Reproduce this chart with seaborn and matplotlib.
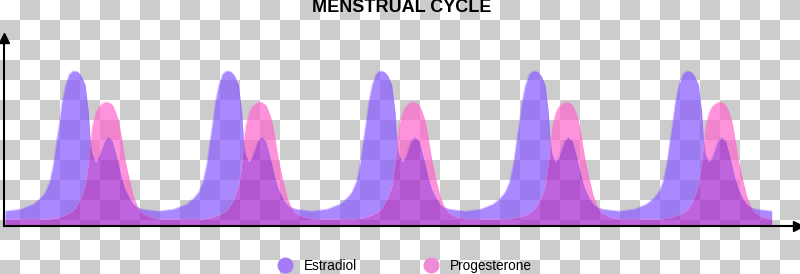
import numpy as np
import pandas as pd
import matplotlib
matplotlib.use("Agg")
import matplotlib.pyplot as plt
from matplotlib.colors import ListedColormap
from matplotlib.lines import Line2D
import seaborn as sns

sns.set_theme(style="white")
plt.rcParams['font.family'] = ['Liberation Sans', 'DejaVu Sans']

# ---------------- data ----------------
title = "MENSTRUAL CYCLE"
series_names = ["Estradiol", "Progesterone"]

days = [
    0.2, 3.0, 5.3, 6.6, 7.5, 8.3, 9.0, 9.5, 10.1, 10.6, 11.2, 11.9, 12.5, 13.0, 13.5, 14.1, 14.8, 15.4,
    15.7, 16.1, 16.7, 17.2, 17.8, 18.3, 19.0, 19.8, 20.3, 20.9, 21.4, 22.1, 22.9, 23.6, 24.3, 25.2, 26.7,
    28.2, 31.0, 33.3, 34.6, 35.5, 36.3, 37.0, 37.5, 38.1, 38.6, 39.2, 39.9, 40.5, 41.0, 41.5, 42.1, 42.8, 43.4,
    43.7, 44.1, 44.7, 45.2, 45.8, 46.3, 47.0, 47.8, 48.3, 48.9, 49.4, 50.1, 50.9, 51.6, 52.3, 53.2, 54.7,
    56.2, 59.0, 61.3, 62.6, 63.5, 64.3, 65.0, 65.5, 66.1, 66.6, 67.2, 67.9, 68.5, 69.0, 69.5, 70.1, 70.8, 71.4,
    71.7, 72.1, 72.7, 73.2, 73.8, 74.3, 75.0, 75.8, 76.3, 76.9, 77.4, 78.1, 78.9, 79.6, 80.3, 81.2, 82.7,
    84.2, 87.0, 89.3, 90.6, 91.5, 92.3, 93.0, 93.5, 94.1, 94.6, 95.2, 95.9, 96.5, 97.0, 97.5, 98.1, 98.8, 99.4,
    99.7, 100.1, 100.7, 101.2, 101.8, 102.3, 103.0, 103.8, 104.3, 104.9, 105.4, 106.1, 106.9, 107.6, 108.3, 109.2, 110.7,
    112.2, 115.0, 117.3, 118.6, 119.5, 120.3, 121.0, 121.5, 122.1, 122.6, 123.2, 123.9, 124.5, 125.0, 125.5, 126.1, 126.8, 127.4,
    127.7, 128.1, 128.7, 129.2, 129.8, 130.3, 131.0, 131.8, 132.3, 132.9, 133.4, 134.1, 134.9, 135.6, 136.3, 137.2, 138.7,
    140.2,
]

estradiol = [
    15, 17, 22, 28, 34, 44, 62, 82, 104, 125, 141, 152, 155, 155, 154, 150, 141, 114,
    88, 72, 64, 68, 77, 85, 89, 85, 75, 62, 50, 37, 28, 22, 19, 17, 16,
    15, 17, 22, 28, 34, 44, 62, 82, 104, 125, 141, 152, 155, 155, 154, 150, 141, 114,
    88, 72, 64, 68, 77, 85, 89, 85, 75, 62, 50, 37, 28, 22, 19, 17, 16,
    15, 17, 22, 28, 34, 44, 62, 82, 104, 125, 141, 152, 155, 155, 154, 150, 141, 114,
    88, 72, 64, 68, 77, 85, 89, 85, 75, 62, 50, 37, 28, 22, 19, 17, 16,
    15, 17, 22, 28, 34, 44, 62, 82, 104, 125, 141, 152, 155, 155, 154, 150, 141, 114,
    88, 72, 64, 68, 77, 85, 89, 85, 75, 62, 50, 37, 28, 22, 19, 17, 16,
    15, 17, 22, 28, 34, 44, 62, 82, 104, 125, 141, 152, 155, 155, 154, 150, 141, 114,
    88, 72, 64, 68, 77, 85, 89, 85, 75, 62, 50, 37, 28, 22, 19, 17, 16,
    15,
]

progesterone = [
    7, 7, 7, 7, 7, 7, 8, 8, 9, 10, 11, 13, 15, 18, 22, 29, 40, 62,
    82, 100, 113, 119, 122, 124, 124, 121, 115, 105, 90, 66, 46, 30, 20, 13, 9,
    7, 7, 7, 7, 7, 7, 8, 8, 9, 10, 11, 13, 15, 18, 22, 29, 40, 62,
    82, 100, 113, 119, 122, 124, 124, 121, 115, 105, 90, 66, 46, 30, 20, 13, 9,
    7, 7, 7, 7, 7, 7, 8, 8, 9, 10, 11, 13, 15, 18, 22, 29, 40, 62,
    82, 100, 113, 119, 122, 124, 124, 121, 115, 105, 90, 66, 46, 30, 20, 13, 9,
    7, 7, 7, 7, 7, 7, 8, 8, 9, 10, 11, 13, 15, 18, 22, 29, 40, 62,
    82, 100, 113, 119, 122, 124, 124, 121, 115, 105, 90, 66, 46, 30, 20, 13, 9,
    7, 7, 7, 7, 7, 7, 8, 8, 9, 10, 11, 13, 15, 18, 22, 29, 40, 62,
    82, 100, 113, 119, 122, 124, 124, 121, 115, 105, 90, 66, 46, 30, 20, 13, 9,
    7,
]

# ---------------- styling ----------------
E_COLOR = "#8a5cff"
P_COLOR = "#ff66cc"
OVERLAP_COLOR = "#a828d0"
E_LEGEND = "#a57cf6"
P_LEGEND = "#f08ad6"

df = pd.DataFrame({"day": days, "Estradiol": estradiol, "Progesterone": progesterone})
long_df = df.melt(id_vars="day", var_name="hormone", value_name="level")

W, H = 800, 274
fig = plt.figure(figsize=(W / 100, H / 100), dpi=100)

# checkerboard background (transparent-image look)
bg = fig.add_axes([0, 0, 1, 1], zorder=0)
board = np.add.outer(np.arange(14), np.arange(40)) % 2
bg.imshow(board, cmap=ListedColormap(["#ffffff", "#cccccc"]), extent=[0, 800, 280, 0],
          interpolation="nearest", aspect="auto")
bg.set_xlim(0, 800)
bg.set_ylim(274, 0)
bg.axis("off")

ax = fig.add_axes([4 / W, 48 / H, 794 / W, 188 / H], zorder=1)
ax.patch.set_alpha(0)

e = df["Estradiol"].to_numpy(float)
p = df["Progesterone"].to_numpy(float)
x = df["day"].to_numpy(float)
mn = np.minimum(e, p)

ax.fill_between(x, 0, mn, color=OVERLAP_COLOR, alpha=0.72, lw=0)
ax.fill_between(x, mn, e, color=E_COLOR, alpha=0.72, lw=0)
ax.fill_between(x, mn, p, color=P_COLOR, alpha=0.7, lw=0)

sns.lineplot(data=long_df, x="day", y="level", hue="hormone",
             palette={"Estradiol": E_COLOR, "Progesterone": P_COLOR},
             linewidth=0.5, alpha=0.35, legend=False, ax=ax, sort=False)

ax.set_xlim(0, 145)
ax.set_ylim(0, 188)
ax.set_xlabel("")
ax.set_ylabel("")
ax.set_xticks([])
ax.set_yticks([])
for s in ["top", "right"]:
    ax.spines[s].set_visible(False)
for s in ["left", "bottom"]:
    ax.spines[s].set_color("black")
    ax.spines[s].set_linewidth(1.5)
ax.plot(1, 0, marker=">", color="black", ms=7, transform=ax.transAxes, clip_on=False)
ax.plot(0, 1, marker="^", color="black", ms=7, transform=ax.transAxes, clip_on=False)

fig.text(402 / W, 1 - 7 / H, title, ha="center", va="center",
         fontsize=13, fontweight="bold", color="black")

handles = [
    Line2D([], [], marker="o", ls="", color=E_LEGEND, ms=10.5, label=series_names[0]),
    Line2D([], [], marker="o", ls="", color=P_LEGEND, ms=10.5, label=series_names[1]),
]
leg = fig.legend(handles=handles, loc="center", bbox_to_anchor=(405 / W, 1 - 266 / H), ncol=2,
                 frameon=False, fontsize=9.8, handletextpad=0.85, columnspacing=5.0,
                 handlelength=1.0, borderpad=0)
for t in leg.get_texts():
    t.set_color("black")

fig.savefig("out.png", dpi=100)
